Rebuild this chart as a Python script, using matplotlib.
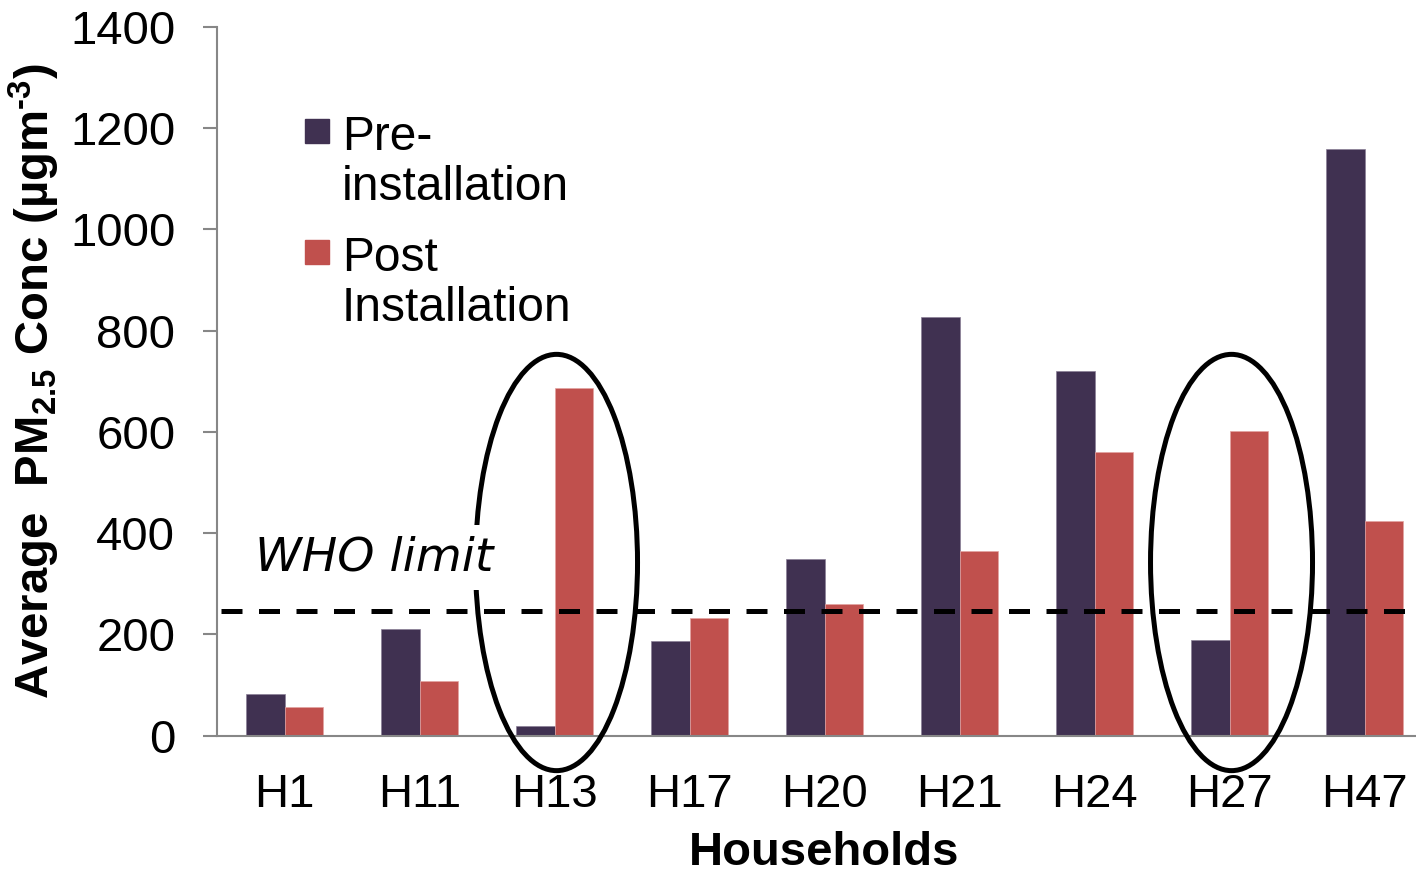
import numpy as np
import matplotlib
matplotlib.use("Agg")
import matplotlib.pyplot as plt
from matplotlib.patches import Ellipse, Rectangle

plt.rcParams["font.family"] = ["Liberation Sans", "DejaVu Sans"]
plt.rcParams["mathtext.fontset"] = "custom"
plt.rcParams["mathtext.rm"] = "Liberation Sans"
plt.rcParams["mathtext.bf"] = "Liberation Sans:bold"

households = ["H1", "H11", "H13", "H17", "H20", "H21", "H24", "H27", "H47"]
pre_install = [82, 210, 20, 187, 349, 827, 720, 189, 1158]
post_install = [56, 108, 686, 232, 260, 365, 560, 602, 423]
who_limit = 246
highlighted = ["H13", "H27"]

pre_color = "#403151"
post_color = "#C0504D"
spine_color = "#878787"

fig = plt.figure(figsize=(14.16, 8.75), dpi=100)
ax = fig.add_axes([217 / 1416, 1 - 735.7 / 875, 1215 / 1416, 709 / 875])

x = np.arange(len(households))
w = 0.285
ax.bar(x - w / 2, pre_install, w, color=pre_color, edgecolor="#8a7f96", linewidth=0.5, zorder=2)
ax.bar(x + w / 2, post_install, w, color=post_color, edgecolor="#e3a3a1", linewidth=0.5, zorder=2)

# WHO limit line
ax.axhline(who_limit, xmin=0.003, color="black", lw=3.6, dashes=(4.2, 3.3), zorder=3)
ax.text(-0.215, 327, "WHO limit", fontsize=34, style="italic", family="DejaVu Sans",
        va="baseline", ha="left", zorder=5,
        bbox=dict(facecolor="white", edgecolor="none", pad=7))

# circles around households where concentration went up
for name in highlighted:
    i = households.index(name)
    ell = Ellipse((i + 0.015, 342), 1.2, 822, facecolor="none", edgecolor="black",
                  lw=3.6, clip_on=False, zorder=4)
    ax.add_patch(ell)

ax.set_xlim(-0.5, len(households) - 0.5)
ax.set_ylim(0, 1400)
ax.set_yticks(np.arange(0, 1401, 200))
ax.set_xticks(x)
ax.set_xticklabels(households)

for side in ["top", "right"]:
    ax.spines[side].set_visible(False)
for side in ["left", "bottom"]:
    ax.spines[side].set_color(spine_color)
    ax.spines[side].set_linewidth(1.5)

ax.tick_params(axis="y", length=10, width=1.5, color=spine_color, labelsize=34, pad=20)
ax.tick_params(axis="x", length=0, labelsize=34, pad=27)

ax.set_xlabel("Households", fontsize=34, fontweight="bold", labelpad=10)
ax.set_ylabel("Average  PM$_{\\mathbf{2.5}}$ Conc (µgm$^{\\mathbf{\u20103}}$)",
              fontsize=34, fontweight="bold")
ax.yaxis.set_label_coords(-0.1276, 0.5)

# legend drawn by hand so the squares sit on the first line of each label
for col, label, ytop, ybase in [(pre_color, "Pre-\ninstallation", 119, 200),
                                (post_color, "Post\nInstallation", 240, 321)]:
    fig.patches.append(Rectangle((305 / 1416, 1 - (ytop + 24) / 875), 24 / 1416, 24 / 875,
                                 transform=fig.transFigure, color=col))
    fig.text(342 / 1416, 1 - ybase / 875, label, fontsize=34.5, va="baseline",
             ha="left", linespacing=1.15)

fig.savefig("out.png", dpi=100)
